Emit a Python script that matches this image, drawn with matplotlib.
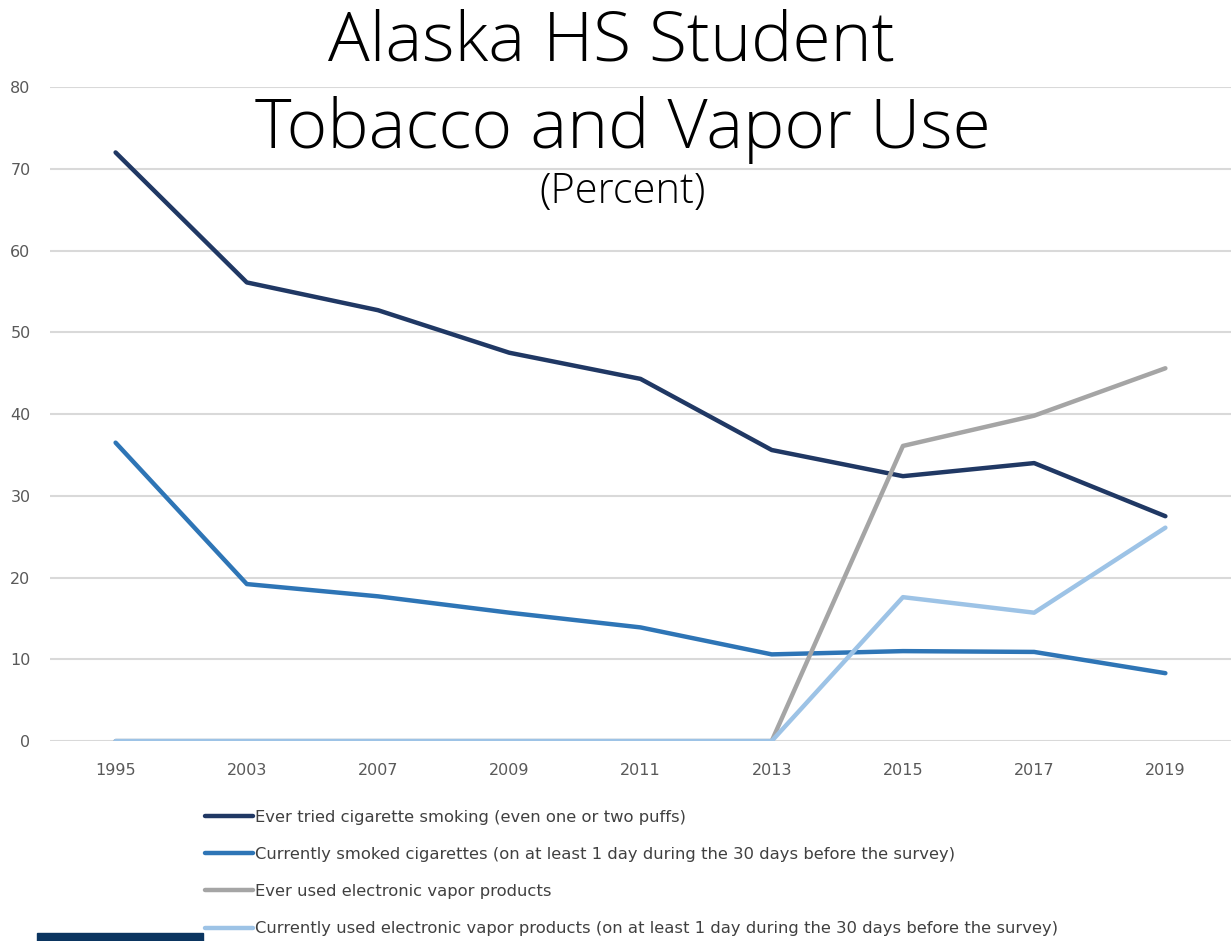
import matplotlib
matplotlib.use("Agg")  # headless
import matplotlib.pyplot as plt
from matplotlib.patches import Rectangle

years = ["1995", "2003", "2007", "2009", "2011", "2013", "2015", "2017", "2019"]
ever_tried = [72.0, 56.1, 52.7, 47.5, 44.3, 35.6, 32.4, 34.0, 27.5]
current_smoked = [36.5, 19.2, 17.7, 15.7, 13.9, 10.6, 11.0, 10.9, 8.3]
ever_vapor = [0, 0, 0, 0, 0, 0, 36.1, 39.8, 45.6]
current_vapor = [0, 0, 0, 0, 0, 0, 17.6, 15.7, 26.1]

labels = [
    "Ever tried cigarette smoking (even one or two puffs)",
    "Currently smoked cigarettes (on at least 1 day during the 30 days before the survey)",
    "Ever used electronic vapor products",
    "Currently used electronic vapor products (on at least 1 day during the 30 days before the survey)",
]
colors = ["#203864", "#2E75B6", "#A5A5A5", "#9DC3E6"]

LABEL_FONT = ["DejaVu Sans"]
TITLE_FONT = ["Open Sans", "DejaVu Sans"]

fig = plt.figure(figsize=(12.31, 9.41), dpi=100)
ax = fig.add_axes([0.0406, 0.2125, 0.9594, 0.695])

x = range(len(years))
for series, color, label in zip([ever_tried, current_smoked, ever_vapor, current_vapor], colors, labels):
    ax.plot(x, series, color=color, lw=3.2, label=label, solid_capstyle="round", zorder=3)

ax.set_xlim(-0.5, len(years) - 0.5)
ax.set_ylim(0, 80)
ax.set_yticks(range(0, 81, 10))
ax.set_xticks(list(x))
ax.set_xticklabels(years)
ax.grid(axis="y", color="#d9d9d9", lw=1.5, zorder=0)
for s in ax.spines.values():
    s.set_visible(False)
ax.tick_params(length=0, labelsize=11.5, colors="#595959")
ax.tick_params(axis="x", pad=16)
ax.tick_params(axis="y", pad=14)
for t in ax.get_xticklabels() + ax.get_yticklabels():
    t.set_family(LABEL_FONT)

fig.text(0.497, 0.936, "Alaska HS Student", ha="center", va="baseline",
         fontsize=50, family=TITLE_FONT, fontweight=300, color="black")
fig.text(0.506, 0.843, "Tobacco and Vapor Use", ha="center", va="baseline",
         fontsize=50, family=TITLE_FONT, fontweight=300, color="black")
fig.text(0.506, 0.784, "(Percent)", ha="center", va="baseline",
         fontsize=30, family=TITLE_FONT, fontweight=300, color="black")

handles, labs = ax.get_legend_handles_labels()
fig.legend(handles, labs, loc="upper left", bbox_to_anchor=(0.1600, 0.148),
           frameon=False, borderpad=0, labelspacing=1.35, handlelength=2.9,
           handletextpad=0.12, prop={"family": LABEL_FONT, "size": 11.8},
           labelcolor="#404040")

fig.add_artist(Rectangle((0.030, 0.0), 0.135, 0.0085, transform=fig.transFigure,
                         color="#0b3560", clip_on=False))

fig.savefig("out.png", dpi=100, facecolor="white")
plt.close(fig)
